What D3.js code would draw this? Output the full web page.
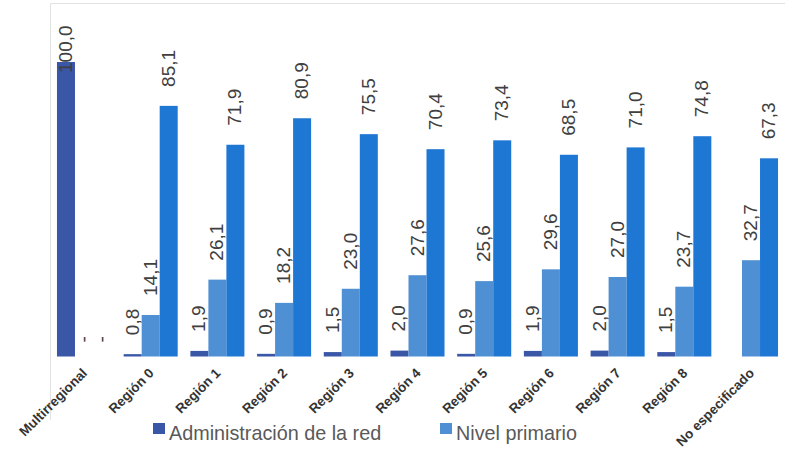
<!DOCTYPE html>
<html>
<head>
<meta charset="utf-8">
<script src="https://cdn.jsdelivr.net/npm/d3@7"></script>
<style>
  html, body { margin: 0; padding: 0; background: #fff; }
  svg { display: block; }
</style>
</head>
<body>
<div id="chart"></div>
<script>
// Categories along the x axis
const categories = ["Multirregional", "Región 0", "Región 1", "Región 2", "Región 3",
  "Región 4", "Región 5", "Región 6", "Región 7", "Región 8", "No especificado"];

// Series values (percent); null = no bar
const administracion = [100.0, 0.8, 1.9, 0.9, 1.5, 2.0, 0.9, 1.9, 2.0, 1.5, null];
const nivelPrimario  = [null, 14.1, 26.1, 18.2, 23.0, 27.6, 25.6, 29.6, 27.0, 23.7, 32.7];
const otrosNiveles   = [null, 85.1, 71.9, 80.9, 75.5, 70.4, 73.4, 68.5, 71.0, 74.8, 67.3];

// Text shown for empty cells (per series)
const emptyLabels = [
  ["", "", "", "", "", "", "", "", "", "", ""],
  ["-", "", "", "", "", "", "", "", "", "", ""],
  ["-", "", "", "", "", "", "", "", "", "", ""]
];

const seriesNames = ["Administración de la red", "Nivel primario", "Otros niveles"];
const seriesValues = [administracion, nivelPrimario, otrosNiveles];
const seriesColors = ["#3a56a6", "#4f8fd3", "#1f77d4"];
const legendSeries = [0, 1];

const W = 785, H = 454;
const svg = d3.select("#chart").append("svg")
  .attr("width", W).attr("height", H)
  .style("font-family", "'Liberation Sans', Arial, sans-serif");

svg.append("rect").attr("width", W).attr("height", H).attr("fill", "#fff");

// Chart frame (top and left edges)
svg.append("path")
  .attr("d", "M50.5,420 V3.5 H785")
  .attr("fill", "none").attr("stroke", "#e2e2e2").attr("stroke-width", 1);

const x0 = d3.scaleBand().domain(categories).range([50.3, 784.7])
  .paddingInner(0.19).paddingOuter(0.1);
const x1 = d3.scaleBand().domain(d3.range(seriesNames.length)).range([0, x0.bandwidth()]);
const y = d3.scaleLinear().domain([0, 100]).range([356.5, 62]);

const fmt = v => d3.format(".1f")(v).replace(".", ",");

// Bars
const groups = svg.append("g").selectAll("g")
  .data(categories).join("g")
  .attr("transform", d => `translate(${x0(d)},0)`);

seriesValues.forEach((vals, s) => {
  groups.filter((d, i) => vals[i] != null)
    .append("rect")
    .attr("x", x1(s))
    .attr("width", x1.bandwidth())
    .attr("y", (d) => y(vals[categories.indexOf(d)]))
    .attr("height", (d) => y(0) - y(vals[categories.indexOf(d)]))
    .attr("fill", seriesColors[s]);
});

// Data labels, clipped to the plot area
svg.append("clipPath").attr("id", "plotClip")
  .append("rect").attr("x", 50).attr("y", 17).attr("width", 740).attr("height", 420);

const labels = svg.append("g").attr("clip-path", "url(#plotClip)");
seriesValues.forEach((vals, s) => {
  categories.forEach((c, i) => {
    const v = vals[i];
    const text = v == null ? emptyLabels[s][i] : fmt(v);
    if (!text) return;
    const cx = x0(c) + x1(s) + x1.bandwidth() / 2;
    let ly;
    if (v == null) ly = y(0) - 14;
    else if (v >= y.domain()[1]) ly = y(v) + 11;  // full-height bar: label starts inside the bar end
    else ly = y(v) - 19;
    labels.append("text")
      .attr("transform", `translate(${cx + 6},${ly}) rotate(-90)`)
      .attr("text-anchor", "start")
      .attr("font-size", 19)
      .attr("fill", "#404040")
      .text(text);
  });
});

// Category labels
svg.append("g").selectAll("text")
  .data(categories).join("text")
  .attr("transform", d => `translate(${x0(d) + x0.bandwidth() / 2 + 4},${374}) rotate(-45)`)
  .attr("text-anchor", "end")
  .attr("font-size", 13.5)
  .attr("font-weight", "bold")
  .attr("fill", "#333")
  .text(d => d);

// Legend
const legendPos = [153, 440];
legendSeries.forEach((s, k) => {
  const g = svg.append("g").attr("transform", `translate(${legendPos[k]},0)`);
  g.append("rect").attr("x", 0).attr("y", 423).attr("width", 12).attr("height", 11)
    .attr("fill", seriesColors[s]);
  g.append("text").attr("x", 16).attr("y", 440)
    .attr("font-size", 19.8).attr("fill", "#595959")
    .text(seriesNames[s]);
});
</script>
</body>
</html>
